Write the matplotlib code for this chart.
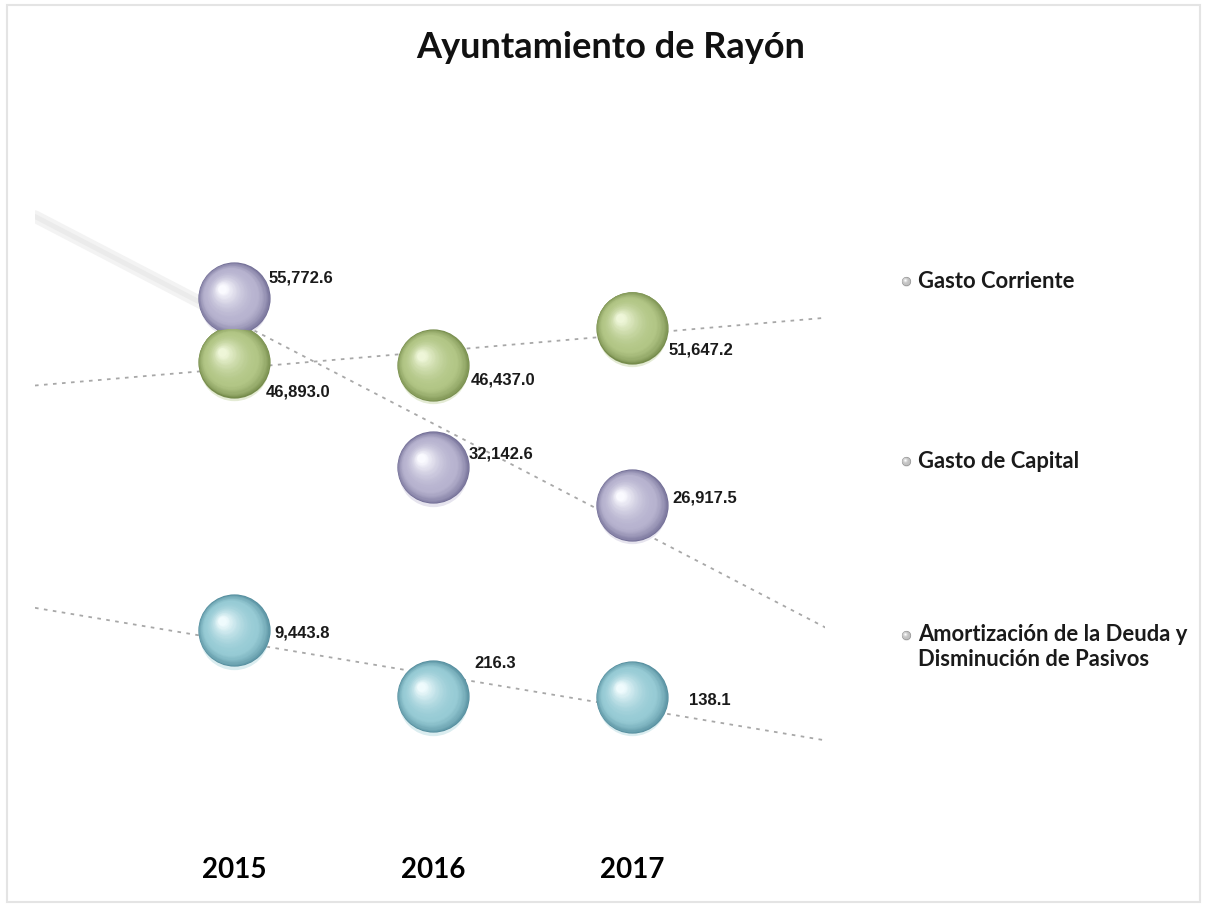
import matplotlib
matplotlib.use("Agg")
import matplotlib.pyplot as plt
import matplotlib.transforms as mtransforms
import numpy as np
from matplotlib.colors import to_rgb
from matplotlib.patches import Rectangle

years = ["2015", "2016", "2017"]
series_names = [
    "Gasto Corriente",
    "Gasto de Capital",
    "Amortización de la Deuda y\nDisminución de Pasivos",
]
gasto_corriente = [46893.0, 46437.0, 51647.2]
gasto_capital = [55772.6, 32142.6, 26917.5]
amortizacion = [9443.8, 216.3, 138.1]
series_values = [gasto_corriente, gasto_capital, amortizacion]

# sphere shading per series: edge, body, highlight
palettes = [
    ("#768c4c", "#b2c686", "#eef6d8"),
    ("#706c94", "#b7b3cf", "#fafaff"),
    ("#538c9c", "#97cbd5", "#effbfd"),
]
# label offsets from sphere centre, in pixels (x right, y up)
label_offsets = [
    [(32, -30), (38, -15), (37, -22)],
    [(35, 20), (36, 13), (40, 7)],
    [(40, -3), (41, 33), (57, -3)],
]
legend_y = [281, 461, 647]

W, H = 1207, 907
fig = plt.figure(figsize=(W / 100, H / 100), dpi=100)
fig.patch.set_facecolor("white")
ax = fig.add_axes([35 / W, (H - 800) / H, 790 / W, 650 / H])
ax.set_xlim(-1, 2.97)
ax.set_ylim(-14222, 76409)
for s in ax.spines.values():
    s.set_visible(False)
ax.set_yticks([])
x = np.arange(len(years))
ax.set_xticks(x)
ax.set_xticklabels(years, fontsize=20, fontweight="bold", family=["Lato", "DejaVu Sans"])
ax.tick_params(axis="x", length=0, pad=41)


def draw_spheres(axis, xs, ys, pal, trans, radius_pt=26, layers=45, z=3):
    edge, body, hi = [np.array(to_rgb(c)) for c in pal]
    # pale reflection under the sphere
    tr = mtransforms.offset_copy(trans, fig=fig, x=0, y=-0.12 * radius_pt, units="points")
    axis.scatter(xs, ys, s=(2 * radius_pt * 0.96) ** 2, color=body * 0.35 + 0.65,
                 transform=tr, zorder=z - 0.01, linewidths=0, clip_on=False)
    for k in range(layers):
        t = k / (layers - 1)
        r = radius_pt * (1 - 0.88 * t)
        if t < 0.28:
            col = edge + (body - edge) * (t / 0.28) ** 0.6
        else:
            col = body + (hi - body) * ((t - 0.28) / 0.72) ** 1.8
        tr = mtransforms.offset_copy(trans, fig=fig, x=-0.32 * radius_pt * t,
                                     y=0.26 * radius_pt * t, units="points")
        axis.scatter(xs, ys, s=(2 * r) ** 2, color=col, transform=tr,
                     zorder=z + k * 0.001, linewidths=0, clip_on=False)


# trend lines
xfit = np.linspace(-1, 2.97, 50)
for i, vals in enumerate(series_values):
    m, b = np.polyfit(x, vals, 1)
    xs_line = xfit if i != 1 else np.linspace(-0.1, 3.0, 50)
    ax.plot(xs_line, m * xs_line + b, color="#a8a8a8", lw=1.3, ls=(0, (2, 3)), zorder=1)
# faint shadow of the capital trend on the left
m, b = np.polyfit(x, gasto_capital, 1)
xg = np.linspace(-1, -0.15, 10)
ax.plot(xg, m * xg + b, color="#f3f3f3", lw=9, solid_capstyle="round", zorder=0.5)
ax.plot(xg, m * xg + b, color="#ebebeb", lw=3.5, solid_capstyle="round", zorder=0.6)

# spheres and labels
for vals, pal, offs in zip(series_values, palettes, label_offsets):
    draw_spheres(ax, x, vals, pal, ax.transData)
    for xi, v, (dx, dy) in zip(x, vals, offs):
        ax.annotate(f"{v:,.1f}", (xi, v), xytext=(dx * 0.72, dy * 0.72),
                    textcoords="offset points", ha="left", va="center",
                    fontsize=12, fontweight="bold",
                    family=["Liberation Sans Narrow", "Liberation Sans", "DejaVu Sans"],
                    color="#1a1a1a", zorder=10)

# legend
for name, ly in zip(series_names, legend_y):
    yf = 1 - ly / H
    if "\n" in name:
        yf = 1 - 635 / H
    draw_spheres(ax, [906 / W], [yf], ("#8a8a8a", "#c4c4c4", "#ffffff"),
                 fig.transFigure, radius_pt=3.3, layers=12)
    fig.text(918 / W, 1 - ly / H, name, fontsize=15.8, fontweight="bold",
             family=["Lato", "DejaVu Sans"], ha="left", va="center",
             color="#1a1a1a", linespacing=1.2)

fig.text(0.506, 1 - 47 / H, "Ayuntamiento de Rayón", fontsize=26, fontweight="bold",
         family=["Lato", "DejaVu Sans"], ha="center", va="center", color="#111111")

fig.patches.append(Rectangle((0.006, 0.006), 0.988, 0.988, transform=fig.transFigure,
                             fill=False, ec="#e4e4e4", lw=1.5))

fig.savefig("out.png", dpi=100, facecolor="white")
